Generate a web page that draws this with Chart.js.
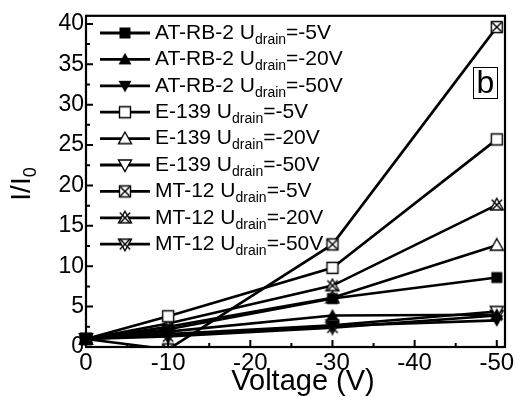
<!DOCTYPE html>
<html>
<head>
<meta charset="utf-8">
<script src="https://cdn.jsdelivr.net/npm/chart.js@4/dist/chart.umd.min.js"></script>
<style>
  html, body { margin: 0; padding: 0; background: #fff; }
  #wrap { width: 518px; height: 397px; }
</style>
</head>
<body>
<div id="wrap"><canvas id="c" width="518" height="397"></canvas></div>
<script>
// Gate voltage (V) at which the normalised current was measured
const voltages = [0, -10, -30, -50];

// Normalised current I/I0 for each sample and drain voltage
const atrb5  = [1, 2.2, 6.0, 8.6];
const atrb20 = [1, 1.9, 3.9, 4.0];
const atrb50 = [1, 1.5, 2.6, 3.3];
const e139_5  = [1, 3.8, 9.8, 25.7];
const e139_20 = [1, 2.5, 6.1, 12.6];
const e139_50 = [1, 1.6, 2.7, 4.4];
const mt12_5  = [1, -0.3, 12.7, 39.6];
const mt12_20 = [1, 2.9, 7.6, 17.6];
const mt12_50 = [1, 1.3, 2.4, 3.9];

// Legend wording
const sampleNames = ['AT-RB-2', 'AT-RB-2', 'AT-RB-2', 'E-139', 'E-139', 'E-139', 'MT-12', 'MT-12', 'MT-12'];
const drainVoltages = ['-5V', '-20V', '-50V', '-5V', '-20V', '-50V', '-5V', '-20V', '-50V'];

// Axis ticks
const xTickValues = [0, -10, -20, -30, -40, -50];
const yTickValues = [0, 5, 10, 15, 20, 25, 30, 35, 40];

const FONT = "'Liberation Sans', Arial, sans-serif";

// Marker glyphs drawn onto small canvases
function marker(kind) {
  const c = document.createElement('canvas');
  c.width = 16; c.height = 16;
  const g = c.getContext('2d');
  const m = 8;
  g.lineWidth = 1.4;
  g.strokeStyle = '#000';
  g.fillStyle = '#000';
  const sq = () => { g.beginPath(); g.rect(m - 5.5, m - 5.5, 11, 11); };
  const up = () => { g.beginPath(); g.moveTo(m, m - 6.5); g.lineTo(m + 6.5, m + 5); g.lineTo(m - 6.5, m + 5); g.closePath(); };
  const dn = () => { g.beginPath(); g.moveTo(m, m + 6.5); g.lineTo(m + 6.5, m - 5); g.lineTo(m - 6.5, m - 5); g.closePath(); };
  const open = (shape) => { shape(); g.fillStyle = '#fff'; g.fill(); g.stroke(); g.fillStyle = '#000'; };
  const cross = (d) => {
    g.beginPath();
    g.moveTo(m - d, m - d); g.lineTo(m + d, m + d);
    g.moveTo(m + d, m - d); g.lineTo(m - d, m + d);
    g.stroke();
  };
  switch (kind) {
    case 'sqFill': sq(); g.fill(); break;
    case 'upFill': up(); g.fill(); break;
    case 'dnFill': dn(); g.fill(); break;
    case 'sqOpen': open(sq); break;
    case 'upOpen': open(up); break;
    case 'dnOpen': open(dn); break;
    case 'sqX': open(sq); cross(4.6); break;
    case 'upX': open(up); cross(5.2); break;
    case 'dnX': open(dn); cross(5.2); break;
  }
  return c;
}

const seriesValues = [atrb5, atrb20, atrb50, e139_5, e139_20, e139_50, mt12_5, mt12_20, mt12_50];
const markerKinds = ['sqFill', 'upFill', 'dnFill', 'sqOpen', 'upOpen', 'dnOpen', 'sqX', 'upX', 'dnX'];
const markers = markerKinds.map(marker);

const datasets = seriesValues.map((vals, i) => ({
  label: sampleNames[i] + ' U drain=' + drainVoltages[i],
  data: vals.map((v, k) => ({ x: voltages[k], y: v })),
  borderColor: '#000',
  borderWidth: 2.6,
  pointStyle: markers[i],
  pointRadius: 6,
  tension: 0,
  clip: { left: 12, top: 12, right: 12, bottom: 0 }
}));

// Frame, inward ticks, legend, panel letter and axis titles
const decor = {
  id: 'decor',
  afterDraw(chart) {
    const { ctx, chartArea: a, scales: { x, y } } = chart;
    ctx.save();
    ctx.strokeStyle = '#000';
    ctx.fillStyle = '#000';

    // inward ticks on the left and bottom axes
    ctx.lineWidth = 2;
    const xt = x.ticks.map(t => t.value);
    const yt = y.ticks.map(t => t.value);
    ctx.beginPath();
    xt.forEach((v, i) => {
      const px = x.getPixelForValue(v);
      ctx.moveTo(px, a.bottom); ctx.lineTo(px, a.bottom - 7);
      if (i < xt.length - 1) {
        const mx = x.getPixelForValue((v + xt[i + 1]) / 2);
        ctx.moveTo(mx, a.bottom); ctx.lineTo(mx, a.bottom - 4);
      }
    });
    yt.forEach((v, i) => {
      const py = y.getPixelForValue(v);
      ctx.moveTo(a.left, py); ctx.lineTo(a.left + 7, py);
      if (i < yt.length - 1) {
        const my = y.getPixelForValue((v + yt[i + 1]) / 2);
        ctx.moveTo(a.left, my); ctx.lineTo(a.left + 4, my);
      }
    });
    ctx.stroke();

    // frame
    ctx.lineWidth = 2.2;
    ctx.strokeRect(a.left, a.top, a.right - a.left, a.bottom - a.top);

    // legend
    const lx0 = 100, lx1 = 150, tx = 155, ly0 = 33, dy = 26.4;
    ctx.textBaseline = 'middle';
    ctx.textAlign = 'left';
    chart.data.datasets.forEach((ds, i) => {
      const ly = ly0 + i * dy;
      ctx.lineWidth = 2.8;
      ctx.beginPath(); ctx.moveTo(lx0, ly); ctx.lineTo(lx1, ly); ctx.stroke();
      const mk = markers[i];
      ctx.drawImage(mk, (lx0 + lx1) / 2 - mk.width / 2, ly - mk.height / 2);
      let cx = tx;
      ctx.font = '21px ' + FONT;
      const head = sampleNames[i] + ' U';
      ctx.fillText(head, cx, ly);
      cx += ctx.measureText(head).width;
      ctx.font = '14px ' + FONT;
      ctx.fillText('drain', cx, ly + 7);
      cx += ctx.measureText('drain').width;
      ctx.font = '21px ' + FONT;
      ctx.fillText('=' + drainVoltages[i], cx, ly);
    });

    // panel letter
    ctx.lineWidth = 1;
    ctx.strokeRect(473.5, 67.5, 24, 31);
    ctx.font = '32px ' + FONT;
    ctx.textAlign = 'center';
    ctx.fillText('b', 485.5, 84);

    // x axis title
    ctx.font = '29px ' + FONT;
    ctx.textAlign = 'center';
    ctx.fillText('Voltage (V)', 303, 382);

    // y axis title with subscript
    ctx.translate(22, 184);
    ctx.rotate(-Math.PI / 2);
    ctx.font = '28px ' + FONT;
    ctx.textAlign = 'left';
    const yt1 = 'I/I';
    const w1 = ctx.measureText(yt1).width;
    ctx.font = '18px ' + FONT;
    const w2 = ctx.measureText('0').width;
    const start = -(w1 + w2) / 2;
    ctx.font = '28px ' + FONT;
    ctx.fillText(yt1, start, 0);
    ctx.font = '18px ' + FONT;
    ctx.fillText('0', start + w1, 9);
    ctx.restore();
  }
};

new Chart(document.getElementById('c'), {
  type: 'line',
  data: { datasets },
  options: {
    responsive: false,
    animation: false,
    devicePixelRatio: 1,
    layout: { padding: { top: 13, right: 13, left: 0, bottom: 0 } },
    plugins: { legend: { display: false }, tooltip: { enabled: false } },
    scales: {
      x: {
        type: 'linear',
        min: -51,
        max: 0,
        reverse: true,
        grid: { display: false, drawTicks: false },
        border: { display: false },
        afterBuildTicks: s => { s.ticks = xTickValues.map(v => ({ value: v })); },
        afterFit: s => { s.height = 50; },
        ticks: { color: '#000', font: { family: FONT, size: 24 }, padding: 2, maxRotation: 0 }
      },
      y: {
        type: 'linear',
        min: 0,
        max: 41,
        grid: { display: false, drawTicks: false },
        border: { display: false },
        afterBuildTicks: s => { s.ticks = yTickValues.map(v => ({ value: v })); },
        afterFit: s => { s.width = 86; },
        ticks: { color: '#000', font: { family: FONT, size: 23 }, padding: 2 }
      }
    }
  },
  plugins: [decor]
});
</script>
</body>
</html>
